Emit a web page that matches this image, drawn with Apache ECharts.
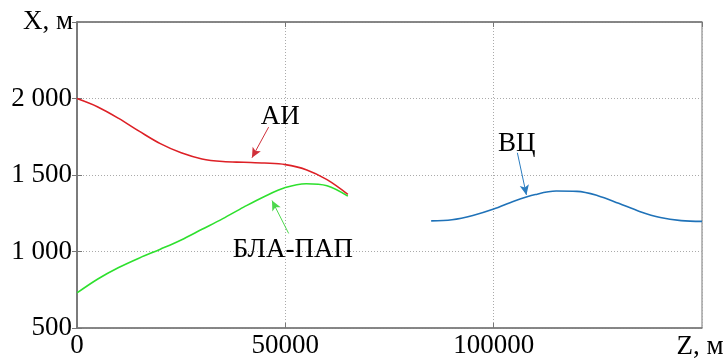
<!DOCTYPE html>
<html>
<head>
<meta charset="utf-8">
<script src="https://cdn.jsdelivr.net/npm/echarts@6/dist/echarts.min.js"></script>
<style>
  html, body { margin: 0; padding: 0; background: #fff; }
  #chart { width: 727px; height: 360px; }
</style>
</head>
<body>
<div id="chart"></div>
<script>
// данные
var zAI = [0, 5000, 10000, 15000, 20000, 25000, 30000, 35000, 40000, 45000, 50000, 55000, 60000, 65000]
var xAI = [2000, 1945, 1870, 1785, 1705, 1645, 1605, 1588, 1583, 1578, 1568, 1535, 1470, 1374]

var zBLA = [0, 5000, 10000, 15000, 20000, 25000, 30000, 35000, 40000, 45000, 50000, 55000, 60000, 65000]
var xBLA = [729, 820, 895, 958, 1015, 1075, 1145, 1215, 1290, 1360, 1418, 1443, 1430, 1362]

var zVC = [85000, 90000, 95000, 100000, 105000, 110000, 115000, 120000, 125000, 130000, 135000, 140000, 145000, 150000]
var xVC = [1200, 1207, 1235, 1277, 1330, 1372, 1395, 1393, 1365, 1315, 1262, 1222, 1202, 1197]

var yTicks = [500, 2500, 500]   // min, max, interval
var zTicks = [0, 150000, 50000]

// подписи и стрелки: [текст, z текста, x текста, z начала, x начала, z конца, x конца]
var noteAI = ['АИ', 48800, 1881, 45990, 1813, 41990, 1613]
var noteBLA = ['БЛА-ПАП', 51800, 1008, 50800, 1118, 46800, 1333]
var noteVC = ['ВЦ', 105530, 1705, 105690, 1645, 107860, 1370]

var serif = '"Liberation Serif", "Times New Roman", serif'

function pairs(zs, xs) {
  return zs.map(function(z, i) { return [z, xs[i]] })
}

function fmtThousands(v) {
  return String(v).replace(/\B(?=(\d{3})+(?!\d))/g, ' ')
}

function note(n, color) {
  return {
    markLine: {
      silent: true,
      symbol: ['none', 'arrow'],
      symbolSize: [7, 10],
      label: { show: false },
      lineStyle: { color: color, width: 1, type: 'solid' },
      data: [[{ coord: [n[3], n[4]] }, { coord: [n[5], n[6]] }]]
    },
    markPoint: {
      silent: true,
      symbol: 'circle',
      symbolSize: 0,
      label: {
        show: true,
        position: 'inside',
        formatter: n[0],
        fontFamily: serif,
        fontSize: 27,
        color: '#000'
      },
      data: [{ coord: [n[1], n[2]] }]
    }
  }
}

function lineSeries(zs, xs, color, n, arrowColor) {
  var s = {
    type: 'line',
    data: pairs(zs, xs),
    smooth: 0.35,
    showSymbol: false,
    lineStyle: { color: color, width: 1.6 },
    itemStyle: { color: color }
  }
  var a = note(n, arrowColor)
  s.markLine = a.markLine
  s.markPoint = a.markPoint
  return s
}

var axisGray = '#777'
var gridLine = { show: true, lineStyle: { color: '#aaa', type: [1, 2], width: 1 } }

var chart = echarts.init(document.getElementById('chart'))
chart.setOption({
  animation: false,
  grid: { left: 77, right: 25, top: 22, bottom: 29, show: true, borderColor: axisGray, borderWidth: 1 },
  xAxis: [
    {
      type: 'value',
      min: zTicks[0],
      max: zTicks[1],
      interval: zTicks[2],
      name: 'Z, м',
      nameLocation: 'end',
      nameGap: -2,
      nameTextStyle: { fontFamily: serif, fontSize: 27, color: '#000', align: 'center', verticalAlign: 'top', padding: [5, 0, 0, 0] },
      axisLine: { show: true, lineStyle: { color: axisGray, width: 1.5 } },
      axisTick: { show: true, inside: true, length: 5, lineStyle: { color: axisGray } },
      axisLabel: {
        fontFamily: serif,
        fontSize: 27,
        color: '#000',
        margin: 4,
        showMaxLabel: false,
        formatter: function(v) { return String(v) }
      },
      splitLine: gridLine
    },
    {
      type: 'value',
      position: 'top',
      min: zTicks[0],
      max: zTicks[1],
      interval: zTicks[2],
      axisLine: { show: true, lineStyle: { color: axisGray, width: 1.5 } },
      axisTick: { show: true, inside: true, length: 5, lineStyle: { color: axisGray } },
      axisLabel: { show: false },
      splitLine: { show: false }
    }
  ],
  yAxis: [
    {
      type: 'value',
      min: yTicks[0],
      max: yTicks[1],
      interval: yTicks[2],
      name: 'X, м',
      nameLocation: 'end',
      nameGap: 0,
      nameTextStyle: { fontFamily: serif, fontSize: 27, color: '#000', align: 'right', verticalAlign: 'middle', padding: [0, 4, 0, 0] },
      axisLine: { show: true, lineStyle: { color: axisGray, width: 1.5 } },
      axisTick: { show: true, inside: true, length: 5, lineStyle: { color: axisGray } },
      axisLabel: {
        fontFamily: serif,
        fontSize: 27,
        color: '#000',
        margin: 5,
        showMaxLabel: false,
        formatter: fmtThousands
      },
      splitLine: gridLine
    },
    {
      type: 'value',
      position: 'right',
      min: yTicks[0],
      max: yTicks[1],
      interval: yTicks[2],
      axisLine: { show: true, lineStyle: { color: axisGray, width: 1.5 } },
      axisTick: { show: true, inside: true, length: 5, lineStyle: { color: axisGray } },
      axisLabel: { show: false },
      splitLine: { show: false }
    }
  ],
  series: [
    lineSeries(zAI, xAI, '#dd2026', noteAI, '#d0303a'),
    lineSeries(zBLA, xBLA, '#2ee02e', noteBLA, '#4cd84c'),
    lineSeries(zVC, xVC, '#1f72b8', noteVC, '#2a7cc0')
  ]
})
</script>
</body>
</html>
